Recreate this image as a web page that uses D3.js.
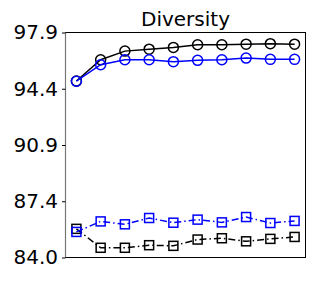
<!DOCTYPE html>
<html>
<head>
<style>
body { margin: 0; background: #fff; }
text { font-family: "DejaVu Sans", sans-serif; }
</style>
</head>
<body>
<svg id="chart"></svg>
<script src="https://cdnjs.cloudflare.com/ajax/libs/d3/7.8.5/d3.min.js"></script>
<script>
var steps = [1, 2, 3, 4, 5, 6, 7, 8, 9, 10];
var yTicks = [84.0, 87.475, 90.95, 94.425, 97.9];
var yTickLabels = ['84.0', '87.4', '90.9', '94.4', '97.9'];

var blackCircle = [94.90, 96.22, 96.75, 96.87, 96.98, 97.14, 97.14, 97.18, 97.21, 97.18];
var blueCircle = [94.89, 95.91, 96.22, 96.22, 96.10, 96.18, 96.22, 96.32, 96.24, 96.24];
var blackSquare = [85.77, 84.60, 84.60, 84.76, 84.72, 85.11, 85.19, 85.00, 85.15, 85.27];
var blueSquare = [85.58, 86.23, 86.05, 86.44, 86.15, 86.34, 86.17, 86.50, 86.13, 86.26];

var width = 316, height = 281;
var plotLeft = 65.5, plotRight = 305.5, plotTop = 32.5, plotBottom = 257.5;

var svg = d3.select('#chart')
  .attr('width', width)
  .attr('height', height);

var x = d3.scaleLinear()
  .domain([0.55, 10.45])
  .range([plotLeft, plotRight]);

var y = d3.scaleLinear()
  .domain([84.0, 97.9])
  .range([plotBottom, plotTop]);

// frame
svg.append('rect')
  .attr('x', plotLeft).attr('y', plotTop)
  .attr('width', plotRight - plotLeft).attr('height', plotBottom - plotTop)
  .attr('fill', 'none')
  .attr('stroke', '#000')
  .attr('stroke-width', 1);

svg.append('line')
  .attr('x1', plotLeft).attr('x2', plotLeft)
  .attr('y1', plotTop).attr('y2', plotBottom)
  .attr('stroke', '#777')
  .attr('stroke-width', 1.2);

var yAxis = svg.append('g')
  .attr('transform', 'translate(' + plotLeft + ',0)')
  .call(d3.axisLeft(y)
    .tickValues(yTicks)
    .tickFormat(function(d, i) { return yTickLabels[i]; })
    .tickSize(3.5)
    .tickPadding(4));
yAxis.select('.domain').remove();
yAxis.selectAll('.tick line').attr('stroke', '#000');
yAxis.selectAll('.tick text')
  .attr('font-size', 20)
  .attr('fill', '#000')
  .attr('font-family', 'DejaVu Sans');

svg.append('text')
  .attr('x', (plotLeft + plotRight) / 2)
  .attr('y', 26)
  .attr('text-anchor', 'middle')
  .attr('font-size', 20)
  .attr('fill', '#000')
  .text('Diversity');

var line = d3.line()
  .x(function(d, i) { return x(steps[i]); })
  .y(function(d) { return y(d); });

var series = [
  { values: blackSquare, color: '#000', marker: 'square', dash: '7,3,1.5,3' },
  { values: blueSquare, color: '#0000ff', marker: 'square', dash: '7,3,1.5,3' },
  { values: blackCircle, color: '#000', marker: 'circle', dash: null },
  { values: blueCircle, color: '#0000ff', marker: 'circle', dash: null }
];

series.forEach(function(s) {
  svg.append('path')
    .datum(s.values)
    .attr('fill', 'none')
    .attr('stroke', s.color)
    .attr('stroke-width', 1.5)
    .attr('stroke-dasharray', s.dash)
    .attr('d', line);

  var g = svg.append('g');
  if (s.marker === 'circle') {
    g.selectAll('circle')
      .data(s.values)
      .enter()
      .append('circle')
      .attr('cx', function(d, i) { return x(steps[i]); })
      .attr('cy', function(d) { return y(d); })
      .attr('r', 5)
      .attr('fill', 'none')
      .attr('stroke', s.color)
      .attr('stroke-width', 1.5);
  } else {
    g.selectAll('rect')
      .data(s.values)
      .enter()
      .append('rect')
      .attr('x', function(d, i) { return x(steps[i]) - 4.5; })
      .attr('y', function(d) { return y(d) - 4.5; })
      .attr('width', 9)
      .attr('height', 9)
      .attr('fill', 'none')
      .attr('stroke', s.color)
      .attr('stroke-width', 1.5);
  }
});
</script>
</body>
</html>
